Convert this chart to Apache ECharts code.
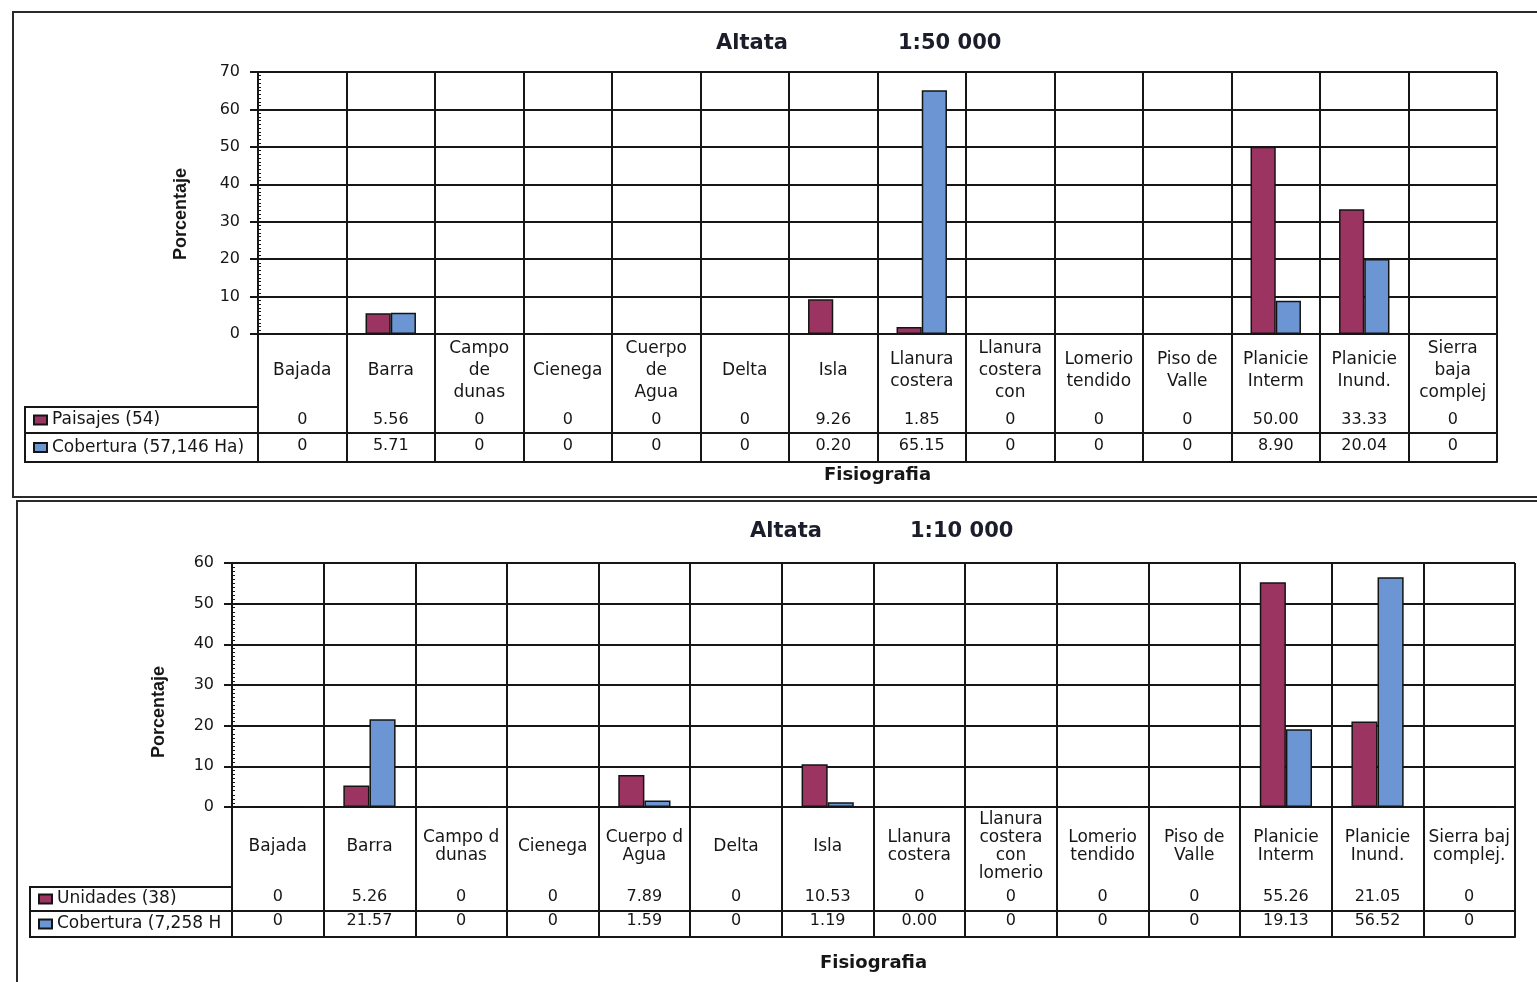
<!DOCTYPE html>
<html>
<head>
<meta charset="utf-8">
<title>Altata - Fisiografia</title>
<script src="https://cdn.jsdelivr.net/npm/echarts@6/dist/echarts.min.js"></script>
<style>
  html, body { margin: 0; padding: 0; background: #ffffff; }
  #chart { width: 1537px; height: 982px; }
</style>
</head>
<body>
<div id="chart"></div>
<script>
// ---- Altata 1:50 000 ----
const categoriasA = ['Bajada', 'Barra', 'Campo\nde\ndunas', 'Cienega', 'Cuerpo\nde\nAgua', 'Delta', 'Isla',
  'Llanura\ncostera', 'Llanura\ncostera\ncon', 'Lomerio\ntendido', 'Piso de\nValle', 'Planicie\nInterm',
  'Planicie\nInund.', 'Sierra\nbaja\ncomplej'];
const paisajesA   = ['0', '5.56', '0', '0', '0', '0', '9.26', '1.85', '0', '0', '0', '50.00', '33.33', '0'];
const coberturaA  = ['0', '5.71', '0', '0', '0', '0', '0.20', '65.15', '0', '0', '0', '8.90', '20.04', '0'];
const serieNombresA = ['Paisajes (54)', 'Cobertura (57,146 Ha)'];
const yMaxA = 70;

// ---- Altata 1:10 000 ----
const categoriasB = ['Bajada', 'Barra', 'Campo de\ndunas', 'Cienega', 'Cuerpo de\nAgua', 'Delta', 'Isla',
  'Llanura\ncostera', 'Llanura\ncostera\ncon\nlomerio', 'Lomerio\ntendido', 'Piso de\nValle', 'Planicie\nInterm',
  'Planicie\nInund.', 'Sierra baja\ncomplej.'];
const unidadesB   = ['0', '5.26', '0', '0', '7.89', '0', '10.53', '0', '0', '0', '0', '55.26', '21.05', '0'];
const coberturaB  = ['0', '21.57', '0', '0', '1.59', '0', '1.19', '0.00', '0', '0', '0', '19.13', '56.52', '0'];
const serieNombresB = ['Unidades (38)', 'Cobertura (7,258 Ha)'];
const yMaxB = 60;

const yStep = 10;

const INK = '#161616';
const MAROON = '#9c3462';
const BLUE = '#6b95d3';
const FONT = 'DejaVu Sans';

// Page layout of each panel (pixels)
const panels = [
  {
    title: 'Altata', scale: '1:50 000', titleLeft: 716, scaleLeft: 898, titleTop: 33,
    frame: { x: 13, y: 12, w: 1600, h: 485 },
    left: 258, right: 1497, top: 72, zero: 334, labelBottom: 407, row1: 433, row2: 462,
    legendLeft: 25, labelLineHeight: 22, rowMargin: 13, nameGapX: 132, nameGapY: 68, namePad: 22,
    cats: categoriasA, s1: paisajesA, s2: coberturaA, names: serieNombresA, yMax: yMaxA, truncate: false
  },
  {
    title: 'Altata', scale: '1:10 000', titleLeft: 750, scaleLeft: 910, titleTop: 521,
    frame: { x: 17, y: 501, w: 1600, h: 600 },
    left: 232, right: 1515, top: 563, zero: 807, labelBottom: 887, row1: 911, row2: 937,
    legendLeft: 30, labelLineHeight: 18, rowMargin: 10, nameGapX: 147, nameGapY: 64, namePad: 54,
    cats: categoriasB, s1: unidadesB, s2: coberturaB, names: serieNombresB, yMax: yMaxB, truncate: true
  }
];

const option = {
  backgroundColor: '#ffffff',
  animation: false,
  title: [],
  legend: [],
  grid: [],
  xAxis: [],
  yAxis: [],
  series: [],
  graphic: []
};

const line = { color: INK, width: 2 };

panels.forEach((p, gi) => {
  const colW = (p.right - p.left) / p.cats.length;

  option.title.push(
    { text: p.title, left: p.titleLeft, top: p.titleTop, padding: 0,
      textStyle: { fontFamily: FONT, fontSize: 21, fontWeight: 'bold', color: '#1b1d2b' } },
    { text: p.scale, left: p.scaleLeft, top: p.titleTop, padding: 0,
      textStyle: { fontFamily: FONT, fontSize: 21, fontWeight: 'bold', color: '#1b1d2b' } }
  );

  option.grid.push({
    left: p.left, top: p.top, width: p.right - p.left, height: p.zero - p.top,
    containLabel: false, outerBoundsMode: 'none'
  });

  const xBase = option.xAxis.length;
  const yBase = option.yAxis.length;

  // Category axis: labels, column rules through label band and data table
  option.xAxis.push({
    gridIndex: gi, type: 'category', data: p.cats, position: 'bottom',
    axisLine: { show: true, lineStyle: line },
    axisTick: { show: true, interval: 0, length: p.row2 - p.zero, lineStyle: line },
    splitLine: { show: true, interval: 0, lineStyle: line },
    axisLabel: {
      interval: 0, margin: (p.labelBottom - p.zero) / 2, verticalAlign: 'middle', align: 'center',
      fontFamily: FONT, fontSize: 17, lineHeight: p.labelLineHeight, color: INK, hideOverlap: false,
      width: colW - 4, overflow: p.truncate ? 'truncate' : 'none', ellipsis: ''
    },
    name: 'Fisiografia', nameLocation: 'middle', nameGap: p.nameGapX, nameMoveOverlap: false,
    nameTextStyle: { fontFamily: FONT, fontSize: 18, fontWeight: 'bold', color: INK }
  });

  // Data table rows (values of each series under its column)
  [p.s1, p.s2].forEach((vals, k) => {
    const top = k === 0 ? p.labelBottom : p.row1;
    option.xAxis.push({
      gridIndex: gi, type: 'category', data: p.cats, position: 'bottom', offset: top - p.zero,
      axisLine: { show: true, lineStyle: line },
      axisTick: { show: false }, splitLine: { show: false },
      axisLabel: {
        interval: 0, margin: p.rowMargin, verticalAlign: 'middle', align: 'center', hideOverlap: false,
        fontFamily: FONT, fontSize: 16, color: INK,
        formatter: (v, idx) => vals[idx]
      }
    });
  });

  // Closing rule of the table
  option.xAxis.push({
    gridIndex: gi, type: 'category', data: p.cats, position: 'bottom', offset: p.row2 - p.zero,
    axisLine: { show: true, lineStyle: line },
    axisTick: { show: false }, splitLine: { show: false }, axisLabel: { show: false }
  });

  // Value axis with major ticks outside
  option.yAxis.push({
    gridIndex: gi, type: 'value', min: 0, max: p.yMax, interval: yStep, position: 'left',
    axisLine: { show: true, lineStyle: line },
    axisTick: { show: true, length: 8, lineStyle: line },
    splitLine: { show: true, lineStyle: line },
    axisLabel: { margin: 18, fontFamily: FONT, fontSize: 16, color: INK },
    name: 'Porcentaje', nameLocation: 'middle', nameRotate: 90, nameGap: p.nameGapY, nameMoveOverlap: false,
    nameTextStyle: { fontFamily: 'Liberation Sans', fontSize: 18, fontWeight: 'bold', color: INK,
      padding: [0, p.namePad, 0, 0] }
  });
  // Minor ticks on the inner side of the value axis
  option.yAxis.push({
    gridIndex: gi, type: 'value', min: 0, max: p.yMax, interval: yStep, position: 'left',
    axisLine: { show: false }, axisTick: { show: false, inside: true },
    axisLabel: { show: false }, splitLine: { show: false },
    minorTick: { show: true, splitNumber: 10, length: 3, lineStyle: { color: INK, width: 1 } }
  });

  [p.s1, p.s2].forEach((vals, k) => {
    option.series.push({
      type: 'bar', name: p.names[k], xAxisIndex: xBase, yAxisIndex: yBase,
      data: vals.map(Number),
      barGap: '0%', barCategoryGap: '43%',
      itemStyle: { color: k === 0 ? MAROON : BLUE, borderColor: '#141414', borderWidth: 1.5 }
    });
  });

  // Legend keys inside the table's first column
  const rowA = p.row1 - p.labelBottom;
  const rowB = p.row2 - p.row1;
  option.legend.push({
    orient: 'vertical', left: p.legendLeft + 8, top: p.labelBottom + rowA / 2 - 10,
    padding: 0, itemGap: (rowA + rowB) / 2 - 20, itemWidth: 13, itemHeight: 9, icon: 'rect',
    selectedMode: false, data: p.names,
    textStyle: { fontFamily: FONT, fontSize: 17, color: INK, lineHeight: 20,
      width: p.left - p.legendLeft - 30, overflow: 'truncate', ellipsis: '' }
  });

  // Panel frame and legend column of the table
  option.graphic.push(
    { type: 'rect', silent: true, shape: { x: p.frame.x, y: p.frame.y, width: p.frame.w, height: p.frame.h },
      style: { fill: 'none', stroke: '#2a2a2a', lineWidth: 2 } },
    { type: 'rect', silent: true,
      shape: { x: p.legendLeft, y: p.labelBottom, width: p.left - p.legendLeft, height: p.row2 - p.labelBottom },
      style: { fill: 'none', stroke: INK, lineWidth: 2 } },
    { type: 'line', silent: true,
      shape: { x1: p.legendLeft, y1: p.row1, x2: p.left, y2: p.row1 },
      style: { stroke: INK, lineWidth: 2 } }
  );
});

const chart = echarts.init(document.getElementById('chart'), null, { renderer: 'canvas' });
chart.setOption(option);
</script>
</body>
</html>
